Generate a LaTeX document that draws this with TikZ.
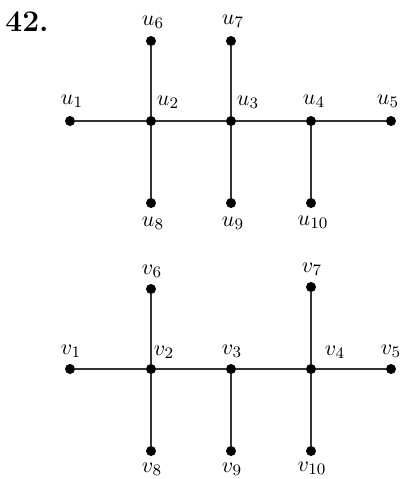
\documentclass[tikz,border=0pt]{standalone}
\begin{document}
\begin{tikzpicture}[x=0.5pt,y=-0.5pt,
  dot/.style={circle,fill=black,inner sep=0pt,minimum size=5pt},
  edge/.style={draw=black!80,line width=0.9pt},
  lab/.style={inner sep=0pt,font=\fontsize{11}{13}\selectfont}]
\useasboundingbox (0,0) rectangle (400,479);
\node[font=\fontsize{15}{17}\selectfont\bfseries,inner sep=0pt] (title) at (27,22) {42.};
% top graph
\node[dot] (u1) at (70,121) {};
\node[dot] (u2) at (151,121) {};
\node[dot] (u3) at (231,121) {};
\node[dot] (u4) at (311,121) {};
\node[dot] (u5) at (391,121) {};
\node[dot] (u6) at (151,41) {};
\node[dot] (u7) at (231,41) {};
\node[dot] (u8) at (151,203) {};
\node[dot] (u9) at (231,203) {};
\node[dot] (u10) at (311,203) {};
\draw[edge] (u1) -- (u2) -- (u3) -- (u4) -- (u5);
\draw[edge] (u6) -- (u2) -- (u8);
\draw[edge] (u7) -- (u3) -- (u9);
\draw[edge] (u4) -- (u10);
\node[lab] (lu1) at (72,101) {$u_1$};
\node[lab] (lu2) at (168,102) {$u_2$};
\node[lab] (lu3) at (248,102) {$u_3$};
\node[lab] (lu4) at (314,101) {$u_4$};
\node[lab] (lu5) at (388,101) {$u_5$};
\node[lab] (lu6) at (153,22) {$u_6$};
\node[lab] (lu7) at (233,21) {$u_7$};
\node[lab] (lu8) at (153,223) {$u_8$};
\node[lab] (lu9) at (233,223) {$u_9$};
\node[lab] (lu10) at (313,222) {$u_{10}$};
% bottom graph
\node[dot] (v1) at (70,369) {};
\node[dot] (v2) at (151,369) {};
\node[dot] (v3) at (231,369) {};
\node[dot] (v4) at (311,369) {};
\node[dot] (v5) at (391,369) {};
\node[dot] (v6) at (151,289) {};
\node[dot] (v7) at (311,287) {};
\node[dot] (v8) at (151,451) {};
\node[dot] (v9) at (231,451) {};
\node[dot] (v10) at (311,451) {};
\draw[edge] (v1) -- (v2) -- (v3) -- (v4) -- (v5);
\draw[edge] (v6) -- (v2) -- (v8);
\draw[edge] (v3) -- (v9);
\draw[edge] (v7) -- (v4) -- (v10);
\node[lab] (lv1) at (71,351) {$v_1$};
\node[lab] (lv2) at (164,352) {$v_2$};
\node[lab] (lv3) at (232,351) {$v_3$};
\node[lab] (lv4) at (335,352) {$v_4$};
\node[lab] (lv5) at (391,351) {$v_5$};
\node[lab] (lv6) at (152,271) {$v_6$};
\node[lab] (lv7) at (312,269) {$v_7$};
\node[lab] (lv8) at (152,469) {$v_8$};
\node[lab] (lv9) at (232,469) {$v_9$};
\node[lab] (lv10) at (312,468) {$v_{10}$};
\end{tikzpicture}
\end{document}
